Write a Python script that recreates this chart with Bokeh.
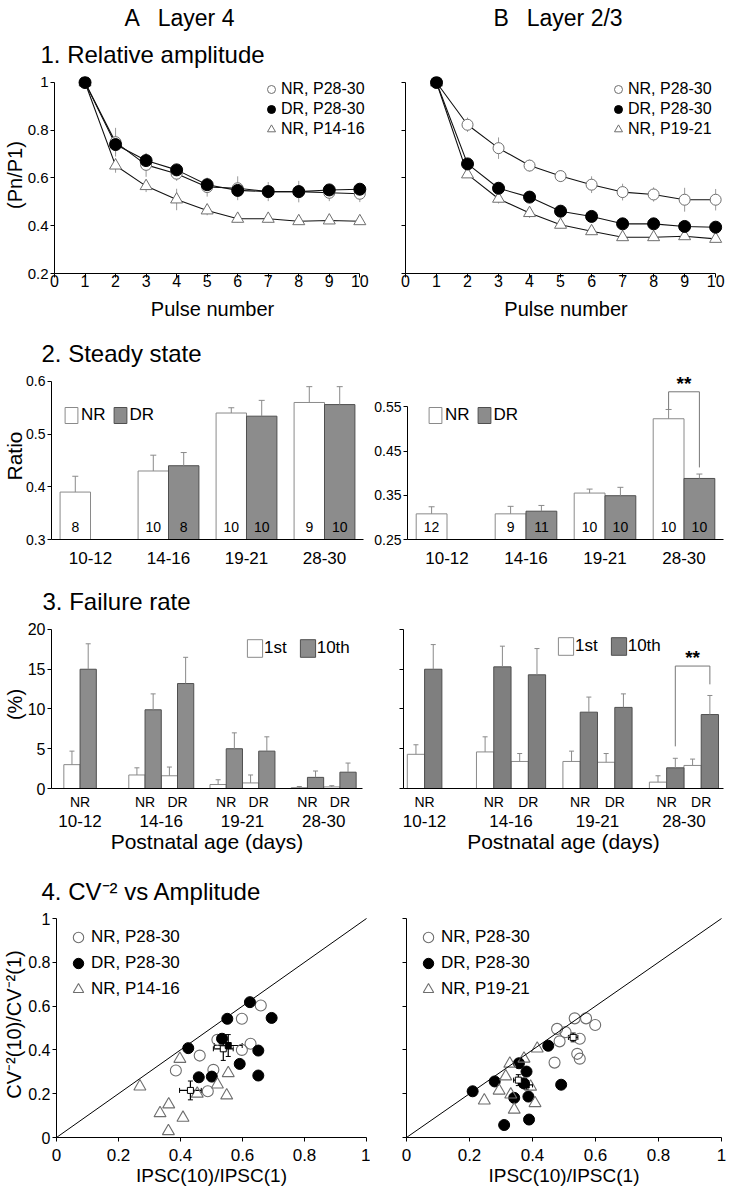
import numpy as np
from bokeh.plotting import figure
from bokeh.layouts import column, row
from bokeh.models import (ColumnDataSource, FactorRange, Range1d, LinearAxis, FixedTicker,
                          Legend, LegendItem, Whisker, TeeHead, Slope, Title)
from bokeh.transform import dodge
from bokeh.core.properties import value
from bokeh.embed import file_html
from bokeh.resources import INLINE

FONT = "Liberation Sans"
OPEN_EDGE = "#6e6e6e"
BAR_EDGE_LIGHT = "#8a8a8a"
BAR_GRAY = "#8c8c8c"
BAR_EDGE = "#4f4f4f"
ERR = "#8a8a8a"

# ---------------- data ----------------
column_titles = ["A\u2002 Layer 4", "B\u2002 Layer 2/3"]

pulses = list(range(1, 11))
A_amp_nr28 = [1.0, 0.75, 0.655, 0.618, 0.562, 0.557, 0.543, 0.543, 0.538, 0.534]
A_amp_nr28_err = [0, 0.06, 0.05, 0.03, 0.04, 0.05, 0.04, 0.045, 0.035, 0.035]
A_amp_dr28 = [1.0, 0.74, 0.673, 0.634, 0.572, 0.548, 0.543, 0.543, 0.55, 0.553]
A_amp_dr28_err = [0, 0.04, 0.03, 0.025, 0.02, 0.02, 0.02, 0.02, 0.015, 0.015]
A_amp_nr14 = [1.0, 0.652, 0.566, 0.51, 0.464, 0.429, 0.429, 0.419, 0.422, 0.419]
A_amp_nr14_err = [0, 0.03, 0.025, 0.045, 0.02, 0.015, 0.015, 0.015, 0.01, 0.01]

B_amp_nr28 = [1.0, 0.823, 0.725, 0.652, 0.608, 0.572, 0.541, 0.531, 0.509, 0.509]
B_amp_nr28_err = [0, 0.03, 0.045, 0.025, 0.025, 0.035, 0.035, 0.03, 0.05, 0.045]
B_amp_dr28 = [1.0, 0.659, 0.557, 0.52, 0.461, 0.439, 0.408, 0.408, 0.397, 0.394]
B_amp_dr28_err = [0, 0.02, 0.02, 0.02, 0.025, 0.02, 0.015, 0.015, 0.01, 0.01]
B_amp_nr19 = [1.0, 0.615, 0.513, 0.453, 0.404, 0.377, 0.352, 0.352, 0.356, 0.345]
B_amp_nr19_err = [0, 0.015, 0.02, 0.02, 0.015, 0.015, 0.01, 0.015, 0.01, 0.01]

ages = ["10-12", "14-16", "19-21", "28-30"]
A_ss_nr = [0.39, 0.43, 0.54, 0.56]
A_ss_nr_err = [0.03, 0.03, 0.01, 0.03]
A_ss_nr_n = [8, 10, 10, 9]
A_ss_dr = [None, 0.44, 0.534, 0.556]
A_ss_dr_err = [None, 0.025, 0.03, 0.034]
A_ss_dr_n = [None, 8, 10, 10]
B_ss_nr = [0.308, 0.308, 0.355, 0.523]
B_ss_nr_err = [0.016, 0.017, 0.009, 0.021]
B_ss_nr_n = [12, 9, 10, 10]
B_ss_dr = [None, 0.314, 0.349, 0.388]
B_ss_dr_err = [None, 0.013, 0.019, 0.010]
B_ss_dr_n = [None, 11, 10, 10]
B_ss_sig = ["28-30"]          # group with ** (NR vs DR)

fail_age = ["10-12", "14-16", "14-16", "19-21", "19-21", "28-30", "28-30"]
fail_cond = ["NR", "NR", "DR", "NR", "DR", "NR", "DR"]
A_f1 = [3.0, 1.7, 1.6, 0.5, 0.7, 0.1, 0.2]
A_f1_err = [1.7, 0.9, 1.1, 0.6, 1.0, 0.15, 0.15]
A_f10 = [15.0, 9.9, 13.2, 5.0, 4.7, 1.4, 2.05]
A_f10_err = [3.2, 2.0, 3.3, 2.0, 1.8, 0.8, 1.15]
B_f1 = [4.3, 4.6, 3.4, 3.4, 3.3, 0.8, 2.9]
B_f1_err = [1.2, 1.9, 1.0, 1.3, 1.1, 0.8, 0.8]
B_f10 = [15.0, 15.3, 14.3, 9.6, 10.2, 2.6, 9.3]
B_f10_err = [3.1, 2.6, 3.3, 1.9, 1.7, 1.2, 2.4]

A_cv_nr28_x = [0.385, 0.462, 0.506, 0.488, 0.519, 0.598, 0.659, 0.598, 0.626]
A_cv_nr28_y = [0.306, 0.374, 0.309, 0.211, 0.446, 0.542, 0.603, 0.40, 0.428]
A_cv_dr28_x = [0.425, 0.551, 0.624, 0.694, 0.534, 0.651, 0.591, 0.651, 0.459, 0.501]
A_cv_dr28_y = [0.408, 0.542, 0.618, 0.546, 0.451, 0.397, 0.336, 0.283, 0.275, 0.278]
A_cv_nr14_x = [0.269, 0.398, 0.334, 0.362, 0.408, 0.361, 0.454, 0.519, 0.554, 0.549]
A_cv_nr14_y = [0.233, 0.359, 0.111, 0.151, 0.090, 0.029, 0.20, 0.242, 0.294, 0.192]
# group means: x, y, sem_x, sem_y  (order NR28, DR28, young NR)
A_mean_x = [0.538, 0.554, 0.432]
A_mean_y = [0.405, 0.42, 0.215]
A_mean_sx = [0.032, 0.045, 0.035]
A_mean_sy = [0.053, 0.05, 0.043]

B_cv_nr28_x = [0.534, 0.570, 0.599, 0.478, 0.505, 0.486, 0.550, 0.542, 0.550, 0.470]
B_cv_nr28_y = [0.544, 0.544, 0.514, 0.496, 0.481, 0.439, 0.451, 0.382, 0.360, 0.342]
B_cv_dr28_x = [0.450, 0.357, 0.381, 0.280, 0.210, 0.491, 0.342, 0.387, 0.389, 0.310, 0.373]
B_cv_dr28_y = [0.419, 0.339, 0.301, 0.256, 0.211, 0.241, 0.181, 0.187, 0.082, 0.057, 0.247]
B_cv_nr19_x = [0.415, 0.373, 0.328, 0.315, 0.294, 0.331, 0.247, 0.342, 0.408, 0.394]
B_cv_nr19_y = [0.406, 0.360, 0.337, 0.279, 0.214, 0.196, 0.169, 0.127, 0.157, 0.232]
B_mean_x = [0.529, 0.38, 0.355]
B_mean_y = [0.457, 0.24, 0.262]
B_mean_sx = [0.015, 0.02, 0.015]
B_mean_sy = [0.02, 0.02, 0.025]


# ---------------- helpers ----------------
def make_fig(width, height, x_range, y_range, ml, mr, mt, mb, **kw):
    p = figure(width=width, height=height, x_range=x_range, y_range=y_range,
               output_backend="svg", toolbar_location=None,
               min_border_left=ml, min_border_right=mr,
               min_border_top=mt, min_border_bottom=mb, **kw)
    for g in p.grid:
        g.visible = False
    p.outline_line_color = None
    p.border_fill_color = "white"
    p.background_fill_color = "white"
    return p


def style_axis(ax, size, show=True, tick_out=4, standoff=2, ticks=None):
    ax.axis_line_color = "black"
    ax.axis_line_width = 1
    ax.major_tick_line_color = "black"
    ax.major_tick_out = tick_out
    ax.major_tick_in = 0
    ax.minor_tick_line_color = None
    ax.major_label_text_font = FONT
    ax.major_label_text_font_size = f"{size}px"
    ax.major_label_text_color = "black"
    ax.major_label_standoff = standoff
    ax.axis_label_text_font = FONT
    ax.axis_label_text_font_style = "normal"
    ax.axis_label_text_color = "black"
    if ticks is not None:
        ax.ticker = FixedTicker(ticks=ticks)
        ax.bounds = (ticks[0], ticks[-1])
        if show:
            ax.major_label_overrides = {t: (f"{t:g}") for t in ticks}
        else:
            ax.major_label_overrides = {t: "" for t in ticks}


def add_title(p, text, size, offset, standoff):
    p.add_layout(Title(text=text, text_font=FONT, text_font_size=f"{size}px",
                       text_font_style="normal", text_color="black", align="left",
                       offset=offset, standoff=standoff), "above")


def legend(items, loc, gw, gh, spacing, standoff, size, orientation="vertical"):
    return Legend(items=items, location=loc, orientation=orientation,
                  glyph_width=gw, glyph_height=gh, spacing=spacing,
                  label_standoff=standoff, label_height=10, padding=0, margin=0,
                  border_line_color=None, background_fill_alpha=0,
                  label_text_font=FONT, label_text_font_size=f"{size}px",
                  label_text_color="black")


# ---------------- row 1 : relative amplitude ----------------
def amp_panel(width, ml, x_end, series, show_y, leg_loc):
    p = make_fig(width, 331, Range1d(0, x_end), Range1d(0.2, 1.0251), ml, 0, 76, 58)
    style_axis(p.xaxis[0], 16, standoff=-3, ticks=list(range(0, 11)))
    p.xaxis.axis_label = "Pulse number"
    p.xaxis.axis_label_text_font_size = "20px"
    p.xaxis.axis_label_standoff = 8
    style_axis(p.yaxis[0], 15, show=show_y, ticks=[0.2, 0.4, 0.6, 0.8, 1.0])
    srcs = []
    for vals, errs, lab, kind in series:
        v = np.array(vals); e = np.array(errs)
        src = ColumnDataSource(dict(x=pulses, y=v, lo=v - e, hi=v + e))
        p.line("x", "y", source=src, line_color="#111111", line_width=1.1)
        p.segment(x0="x", y0="lo", x1="x", y1="hi", source=src, line_color="#9a9a9a", line_width=1)
        srcs.append((src, lab, kind))
    items = {}
    for src, lab, kind in srcs:
        if kind == "open":
            items[lab] = p.scatter("x", "y", source=src, marker="circle", size=11, fill_color="white",
                                   line_color=OPEN_EDGE, line_width=1)
        elif kind == "tri":
            items[lab] = p.scatter("x", "y", source=src, marker="triangle", size=12, fill_color="white",
                                   line_color=OPEN_EDGE, line_width=1)
    for src, lab, kind in srcs:
        if kind == "filled":
            items[lab] = p.scatter("x", "y", source=src, marker="circle", size=12,
                                   fill_color="black", line_color="black")
    leg_items = [LegendItem(label=s[2], renderers=[items[s[2]]]) for s in series]
    p.add_layout(legend(leg_items, leg_loc, 20, 20, 0, 0, 16))
    return p


p1a = amp_panel(370, 49, 10.35,
                [(A_amp_nr28, A_amp_nr28_err, "NR, P28-30", "open"),
                 (A_amp_dr28, A_amp_dr28_err, "DR, P28-30", "filled"),
                 (A_amp_nr14, A_amp_nr14_err, "NR, P14-16", "tri")],
                True, (207, 134))
p1a.yaxis.axis_label = "(Pn/P1)"
p1a.yaxis.axis_label_text_font_size = "20px"
p1a.yaxis.axis_label_standoff = -1
p1b = amp_panel(356, 35, 10.35,
                [(B_amp_nr28, B_amp_nr28_err, "NR, P28-30", "open"),
                 (B_amp_dr28, B_amp_dr28_err, "DR, P28-30", "filled"),
                 (B_amp_nr19, B_amp_nr19_err, "NR, P19-21", "tri")],
                False, (203, 134))
add_title(p1a, "1. Relative amplitude", 24, -14, 17)
add_title(p1a, column_titles[0], 23, 70, 0)
add_title(p1b, "\u00a0", 24, 0, 17)
add_title(p1b, column_titles[1], 23, 88, 0)


# ---------------- row 2 : steady state ----------------
ROW2_H, ROW2_MB = 242, 34


def ss_panel(width, ml, mr, mt, y0, nr, nr_err, nr_n, dr, dr_err, dr_n, show_y, leg_loc, ticks):
    fh = ROW2_H - mt - ROW2_MB
    p = make_fig(width, ROW2_H, FactorRange(factors=ages, range_padding=0),
                 Range1d(y0, y0 + fh / 527.0), ml, mr, mt, ROW2_MB)
    style_axis(p.xaxis[0], 17, tick_out=0, standoff=12)
    p.xaxis.major_tick_line_color = None
    style_axis(p.yaxis[0], 14, show=show_y, ticks=ticks)
    nr_v = np.array(nr)
    src_nr = ColumnDataSource(dict(age=ages, top=nr_v, err=nr_v + np.array(nr_err),
                                   n=[str(k) for k in nr_n]))
    idx = [i for i, v in enumerate(dr) if v is not None]
    dr_v = np.array([dr[i] for i in idx])
    src_dr = ColumnDataSource(dict(age=[ages[i] for i in idx], top=dr_v,
                                   err=dr_v + np.array([dr_err[i] for i in idx]),
                                   n=[str(dr_n[i]) for i in idx]))
    off = 0.195
    rn = p.vbar(x=dodge("age", -off, range=p.x_range), top="top", bottom=y0, width=0.39,
                source=src_nr, fill_color="white", line_color=BAR_EDGE_LIGHT, line_width=1)
    rd = p.vbar(x=dodge("age", off, range=p.x_range), top="top", bottom=y0, width=0.39,
                source=src_dr, fill_color=BAR_GRAY, line_color=BAR_EDGE, line_width=1)
    for src, o in ((src_nr, -off), (src_dr, off)):
        xx = dodge("age", o, range=p.x_range)
        p.segment(x0=xx, y0="top", x1=xx, y1="err", source=src, line_color=ERR)
        p.scatter(x=xx, y="err", source=src, marker="dash", size=6, line_color=ERR)
        p.text(x=xx, y=y0, text="n", source=src, text_align="center", text_baseline="middle",
               y_offset=-13, text_font=value(FONT), text_font_size="14px", text_color="black")
    p.add_layout(legend([LegendItem(label="NR", renderers=[rn]), LegendItem(label="DR", renderers=[rd])],
                        leg_loc, 16, 20, 6, 2, 17, orientation="horizontal"))
    return p


p2a = ss_panel(370, 47, 7, 41, 0.3, A_ss_nr, A_ss_nr_err, A_ss_nr_n, A_ss_dr, A_ss_dr_err,
               A_ss_dr_n, True, (12, 114), [0.3, 0.4, 0.5, 0.6])
p2b = ss_panel(356, 37, 3, 9, 0.25, B_ss_nr, B_ss_nr_err, B_ss_nr_n, B_ss_dr, B_ss_dr_err,
               B_ss_dr_n, True, (20, 114), [0.25, 0.35, 0.45, 0.55])
add_title(p2a, "2. Steady state", 24, -10, 11)
p2a.yaxis.axis_label = "Ratio"
p2a.yaxis.axis_label_text_font_size = "21px"
p2a.yaxis.axis_label_standoff = -3

# significance bracket, steady state B
gi = [ages.index(g) for g in B_ss_sig]
nr_top = [B_ss_nr[i] + B_ss_nr_err[i] for i in gi]
dr_top = [B_ss_dr[i] + B_ss_dr_err[i] for i in gi]
br_top = [max(a, b) + 0.04 for a, b in zip(nr_top, dr_top)]
br = ColumnDataSource(dict(age=B_ss_sig, yl=nr_top, yr=[v + 0.015 for v in dr_top], yt=br_top, s=["**"]))
xl = dodge("age", -0.195, range=p2b.x_range)
xr = dodge("age", 0.195, range=p2b.x_range)
p2b.segment(x0=xl, y0="yl", x1=xl, y1="yt", source=br, line_color="#777777")
p2b.segment(x0=xl, y0="yt", x1=xr, y1="yt", source=br, line_color="#777777")
p2b.segment(x0=xr, y0="yt", x1=xr, y1="yr", source=br, line_color="#777777")
p2b.text(x="age", y="yt", text="s", source=br, text_align="center", text_baseline="bottom",
         y_offset=2, text_font=value(FONT), text_font_size="19px", text_font_style="bold",
         text_color="black")


# ---------------- row 3 : failure rate ----------------
group_gap = {"14-16": 1.0, "19-21": 0.5, "28-30": 0.5}
slot = []
for i, a in enumerate(fail_age):
    if i == 0:
        slot.append(0.0)
    elif a == fail_age[i - 1]:
        slot.append(slot[-1] + 1.0)
    else:
        slot.append(slot[-1] + 1.0 + group_gap[a])
group_centers = [float(np.mean([s for s, a in zip(slot, fail_age) if a == g])) for g in ages]


def fail_panel(width, ml, mr, ppu, x0, f1, f1e, f10, f10e, show_y, leg_loc, gray):
    fw = width - ml - mr
    p = make_fig(width, 290, Range1d(x0, x0 + fw / ppu), Range1d(0, 21.13),
                 ml, mr, 47, 75, x_axis_type=None)
    style_axis(p.yaxis[0], 16, show=show_y, ticks=[0, 5, 10, 15, 20])
    ax1 = LinearAxis(ticker=FixedTicker(ticks=slot),
                     major_label_overrides={s: c for s, c in zip(slot, fail_cond)})
    style_axis(ax1, 14, tick_out=0, standoff=5)
    ax1.major_tick_line_color = None
    ax2 = LinearAxis(ticker=FixedTicker(ticks=group_centers),
                     major_label_overrides={c: a for c, a in zip(group_centers, ages)})
    style_axis(ax2, 17, tick_out=0, standoff=2)
    ax2.axis_line_color = None
    ax2.major_tick_line_color = None
    ax2.axis_label = "Postnatal age (days)"
    ax2.axis_label_text_font_size = "21px"
    ax2.axis_label_standoff = 0
    p.add_layout(ax1, "below")
    p.add_layout(ax2, "below")
    s = np.array(slot)
    a1 = np.array(f1); a10 = np.array(f10)
    src1 = ColumnDataSource(dict(x=s - 0.25, top=a1, err=a1 + np.array(f1e)))
    src10 = ColumnDataSource(dict(x=s + 0.25, top=a10, err=a10 + np.array(f10e)))
    r1 = p.vbar(x="x", top="top", bottom=0, width=0.5, source=src1, fill_color="white",
                line_color=BAR_EDGE_LIGHT)
    r10 = p.vbar(x="x", top="top", bottom=0, width=0.5, source=src10, fill_color=gray,
                 line_color=BAR_EDGE)
    for src in (src1, src10):
        p.segment(x0="x", y0="top", x1="x", y1="err", source=src, line_color=ERR)
        p.scatter(x="x", y="err", source=src, marker="dash", size=5, line_color=ERR)
    p.add_layout(legend([LegendItem(label="1st", renderers=[r1]), LegendItem(label="10th", renderers=[r10])],
                        leg_loc, 19, 22, 11, 0, 17, orientation="horizontal"))
    return p


p3a = fail_panel(370, 46, 8, 33.0, -0.88, A_f1, A_f1_err, A_f10, A_f10_err, True, (194, 129), BAR_GRAY)
p3b = fail_panel(356, 33, 3, 34.58, -0.61, B_f1, B_f1_err, B_f10, B_f10_err, False, (153, 131), "#7f7f7f")
add_title(p3a, "3. Failure rate", 24, -9, 12)
p3a.yaxis.axis_label = "(%)"
p3a.yaxis.axis_label_text_font_size = "20px"
p3a.yaxis.axis_label_standoff = -1

# significance bracket, failure B (NR vs DR 10th pulse at 28-30)
ia, ib = 5, 6
fb = ColumnDataSource(dict(xl=[slot[ia] + 0.25], xr=[slot[ib] + 0.25],
                           yl=[B_f10[ia] + B_f10_err[ia] + 1.5],
                           yr=[B_f10[ib] + B_f10_err[ib] + 1.4],
                           yt=[B_f10[ib] + B_f10_err[ib] + 3.7],
                           xm=[(slot[ia] + slot[ib]) / 2 + 0.25], s=["**"]))
p3b.segment(x0="xl", y0="yl", x1="xl", y1="yt", source=fb, line_color="#777777")
p3b.segment(x0="xl", y0="yt", x1="xr", y1="yt", source=fb, line_color="#777777")
p3b.segment(x0="xr", y0="yt", x1="xr", y1="yr", source=fb, line_color="#777777")
p3b.text(x="xm", y="yt", text="s", source=fb, text_align="center", text_baseline="bottom",
         y_offset=2, text_font=value(FONT), text_font_size="19px", text_font_style="bold",
         text_color="black")


# ---------------- row 4 : CV-2 vs amplitude ----------------
def cv_panel(width, ml, mr, groups, means, show_y, leg_loc):
    p = make_fig(width, 334, Range1d(0, 1), Range1d(0, 1.032), ml, mr, 48, 60)
    style_axis(p.xaxis[0], 17, standoff=7, ticks=[0, 0.2, 0.4, 0.6, 0.8, 1])
    p.xaxis.axis_label = "IPSC(10)/IPSC(1)"
    p.xaxis.axis_label_text_font_size = "19px"
    p.xaxis.axis_label_standoff = 1
    style_axis(p.yaxis[0], 16, show=show_y, ticks=[0, 0.2, 0.4, 0.6, 0.8, 1])
    p.add_layout(Slope(gradient=1, y_intercept=0, line_color="black", line_width=1))
    rs = []
    for (xs, ys, lab, kind) in groups:
        src = ColumnDataSource(dict(x=xs, y=ys))
        if kind == "open":
            r = p.scatter("x", "y", source=src, marker="circle", size=11, fill_color=None,
                          line_color=OPEN_EDGE, line_width=1.1)
        elif kind == "tri":
            r = p.scatter("x", "y", source=src, marker="triangle", size=12, fill_color=None,
                          line_color=OPEN_EDGE, line_width=1.1)
        else:
            r = p.scatter("x", "y", source=src, marker="circle", size=11, fill_color="black",
                          line_color="black")
        rs.append((lab, r))
    mx, my, sx, sy = [np.array(m) for m in means]
    msrc = ColumnDataSource(dict(x=mx, y=my, xl=mx - sx, xu=mx + sx, yl=my - sy, yu=my + sy,
                                 fill=["white", "black", "white"]))
    p.add_layout(Whisker(source=msrc, base="y", lower="xl", upper="xu", dimension="width",
                         line_color="black", line_width=1.2,
                         lower_head=TeeHead(size=5, line_color="black"),
                         upper_head=TeeHead(size=5, line_color="black")))
    p.add_layout(Whisker(source=msrc, base="x", lower="yl", upper="yu", dimension="height",
                         line_color="black", line_width=1.2,
                         lower_head=TeeHead(size=5, line_color="black"),
                         upper_head=TeeHead(size=5, line_color="black")))
    p.scatter("x", "y", source=msrc, marker="square", size=6, fill_color="fill", line_color="black")
    p.add_layout(legend([LegendItem(label=l, renderers=[r]) for l, r in rs],
                        leg_loc, 26, 26, -3, -5, 17))
    return p


p4a = cv_panel(370, 52, 4,
               [(A_cv_nr28_x, A_cv_nr28_y, "NR, P28-30", "open"),
                (A_cv_dr28_x, A_cv_dr28_y, "DR, P28-30", "filled"),
                (A_cv_nr14_x, A_cv_nr14_y, "NR, P14-16", "tri")],
               (A_mean_x, A_mean_y, A_mean_sx, A_mean_sy), True, (9, 135))
p4b = cv_panel(356, 36, 5,
               [(B_cv_nr28_x, B_cv_nr28_y, "NR, P28-30", "open"),
                (B_cv_dr28_x, B_cv_dr28_y, "DR, P28-30", "filled"),
                (B_cv_nr19_x, B_cv_nr19_y, "NR, P19-21", "tri")],
               (B_mean_x, B_mean_y, B_mean_sx, B_mean_sy), False, (9, 135))

add_title(p4a, "4. CV\u207b\u00b2 vs Amplitude", 24, -15, 13)
p4a.yaxis.axis_label = "CV\u207b\u00b2(10)/CV\u207b\u00b2(1)"
p4a.yaxis.axis_label_text_font_size = "20px"
p4a.yaxis.axis_label_standoff = 0

layout = column(row(p1a, p1b), row(p2a, p2b), row(p3a, p3b), row(p4a, p4b))

with open("out.html", "w") as f:
    f.write(file_html(layout, INLINE))
